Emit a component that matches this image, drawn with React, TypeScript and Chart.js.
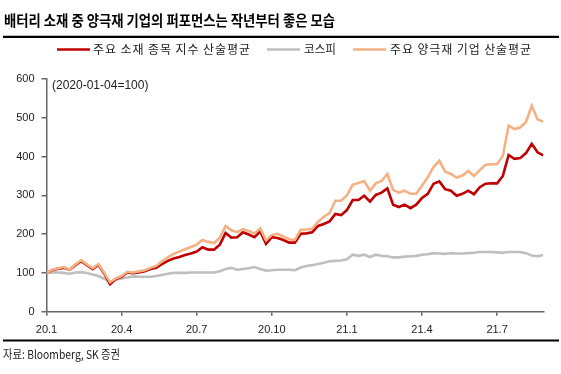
import React, { useEffect, useRef } from "react";
import { Chart, registerables } from "chart.js";

Chart.register(...registerables);

const titleText = "배터리 소재 중 양극재 기업의 퍼포먼스는 작년부터 좋은 모습";
const sourceText = "자료: Bloomberg, SK 증권";
const baseNote = "(2020-01-04=100)";
const seriesNames = ["주요 소재 종목 지수 산술평균", "코스피", "주요 양극재 기업 산술평균"];
const seriesColors = ["#C00000", "#BFBFBF", "#F4B183"];

// weekly points from 2020-01-04
const tickIdx = [0, 13, 26, 39, 52, 65, 78];
const tickLabels = ["20.1", "20.4", "20.7", "20.10", "21.1", "21.4", "21.7"];
const yTicks = [0, 100, 200, 300, 400, 500, 600];

const materials = [
  100, 107, 111, 113, 108, 120, 130, 120, 110, 121,
  98, 71, 84, 90, 101, 99, 101, 104, 110, 113,
  123, 131, 137, 141, 146, 150, 155, 166, 160, 160,
  173, 203, 191, 192, 205, 199, 192, 207, 175, 192,
  190, 185, 178, 178, 201, 202, 205, 221, 226, 233,
  252, 249, 262, 288, 288, 299, 284, 301, 307, 318,
  276, 270, 276, 267, 276, 293, 304, 330, 336, 316,
  312, 299, 304, 312, 303, 321, 330, 331, 331, 350,
  404, 394, 396, 409, 433, 411, 403,
];

const kospi = [
  100, 101, 101, 100, 98, 101, 102, 100, 96, 92,
  85, 76, 82, 86, 88, 91, 90, 90, 90, 92,
  95, 98, 100, 100, 100, 101, 101, 101, 101, 101,
  104, 110, 113, 108, 110, 112, 115, 110, 106, 107,
  108, 108, 108, 107, 114, 118, 120, 123, 126, 130,
  131, 132, 135, 147, 144, 147, 141, 147, 144, 143,
  140, 140, 142, 143, 144, 147, 148, 151, 150, 149,
  151, 150, 150, 151, 152, 154, 154, 154, 153, 152,
  154, 154, 154, 151, 145, 143, 146,
];

const cathode = [
  100, 108, 112, 115, 108, 122, 133, 122, 112, 123,
  100, 76, 86, 92, 103, 101, 104, 107, 113, 118,
  130, 140, 149, 155, 161, 167, 173, 185, 180, 177,
  191, 221, 210, 205, 213, 208, 202, 215, 184, 198,
  201, 194, 187, 185, 211, 212, 214, 232, 245, 254,
  286, 286, 300, 327, 332, 337, 312, 331, 337, 355,
  314, 307, 312, 304, 304, 325, 347, 373, 389, 361,
  355, 346, 351, 363, 350, 365, 379, 380, 380, 402,
  480, 471, 475, 489, 531, 496, 490,
];

const KR = '"Noto Sans CJK KR", sans-serif';
const LAT = '"Liberation Sans", Arial, sans-serif';

function fitText(ctx: any, text: string, x: number, y: number, width: number) {
  ctx.letterSpacing = "0px";
  const w = ctx.measureText(text).width;
  const n = Array.from(text).length;
  if (w < width && n > 1) {
    ctx.letterSpacing = ((width - w) / (n - 1)).toFixed(2) + "px";
    ctx.fillText(text, x, y);
  } else {
    ctx.fillText(text, x, y, width);
  }
  ctx.letterSpacing = "0px";
}

const decoPlugin = {
  id: "deco",
  afterDraw(chart: any) {
    const ctx = chart.ctx as CanvasRenderingContext2D;
    ctx.save();
    // title
    ctx.fillStyle = "#000";
    ctx.textBaseline = "middle";
    ctx.textAlign = "left";
    ctx.font = "bold 15px " + KR;
    fitText(ctx, titleText, 4, 20, 331);
    // rules
    ctx.strokeStyle = "#000";
    ctx.lineWidth = 2.2;
    ctx.beginPath();
    ctx.moveTo(3, 36.8);
    ctx.lineTo(559, 36.8);
    ctx.moveTo(3, 340.5);
    ctx.lineTo(559, 340.5);
    ctx.stroke();
    // legend
    const lx = [57, 267, 353];
    const tx = [93, 304, 390];
    const tw = [157, 32, 141];
    ctx.font = "12px " + KR;
    ctx.fillStyle = "#222";
    for (let i = 0; i < 3; i++) {
      ctx.strokeStyle = seriesColors[i];
      ctx.lineWidth = 2.7;
      ctx.beginPath();
      ctx.moveTo(lx[i], 49.5);
      ctx.lineTo(lx[i] + 33, 49.5);
      ctx.stroke();
      fitText(ctx, seriesNames[i], tx[i], 49, tw[i]);
    }
    // note
    ctx.font = "12px " + LAT;
    ctx.fillStyle = "#222";
    ctx.fillText(baseNote, 52, 86);
    // source
    ctx.font = "12px " + KR;
    ctx.fillStyle = "#222";
    ctx.fillText(sourceText, 3, 354, 117);
    ctx.restore();
  },
};

export default function App() {
  const ref = useRef<HTMLCanvasElement>(null);
  useEffect(() => {
    if (!ref.current) return;
    const mk = (arr: number[]) => arr.map((v, i) => ({ x: i, y: v }));
    const chart = new Chart(ref.current, {
      type: "line",
      data: {
        datasets: [
          { label: seriesNames[0], data: mk(materials), borderColor: seriesColors[0], borderWidth: 2.6, pointRadius: 0, order: 1 },
          { label: seriesNames[1], data: mk(kospi), borderColor: seriesColors[1], borderWidth: 2.6, pointRadius: 0, order: 2 },
          { label: seriesNames[2], data: mk(cathode), borderColor: seriesColors[2], borderWidth: 2.6, pointRadius: 0, order: 0 },
        ],
      },
      options: {
        responsive: false,
        animation: false,
        devicePixelRatio: 1,
        layout: { padding: { top: 79, right: 17.7, left: 0, bottom: 0 } },
        plugins: { legend: { display: false }, tooltip: { enabled: false }, title: { display: false } },
        scales: {
          x: {
            type: "linear",
            min: 0,
            max: materials.length - 1,
            afterBuildTicks: (s: any) => {
              s.ticks = tickIdx.map((v) => ({ value: v }));
            },
            afterFit: (s: any) => {
              s.height = 62.3;
            },
            grid: { display: true, drawOnChartArea: false, drawTicks: true, tickLength: 4, color: "#666", lineWidth: 1.5 },
            border: { display: true, color: "#666", width: 1.5 },
            ticks: {
              autoSkip: false,
              maxRotation: 0,
              padding: 8,
              color: "#222",
              font: { family: LAT, size: 11 },
              callback: (v: any) => {
                const k = tickIdx.indexOf(Number(v));
                return k >= 0 ? tickLabels[k] : null;
              },
            },
          },
          y: {
            min: 0,
            max: 600,
            afterBuildTicks: (s: any) => {
              s.ticks = yTicks.map((v) => ({ value: v }));
            },
            afterFit: (s: any) => {
              s.width = 46.5;
            },
            grid: { display: true, drawOnChartArea: false, drawTicks: true, tickLength: 5, color: "#666", lineWidth: 1.5 },
            border: { display: true, color: "#666", width: 1.5 },
            ticks: { padding: 7, color: "#222", font: { family: LAT, size: 11 } },
          },
        },
      },
      plugins: [decoPlugin],
    } as any);
    return () => chart.destroy();
  }, []);
  return (
    <canvas
      ref={ref}
      width={561}
      height={374}
      style={{ position: "absolute", left: 0, top: 0, width: 561, height: 374, display: "block", background: "#fff" }}
    />
  );
}
